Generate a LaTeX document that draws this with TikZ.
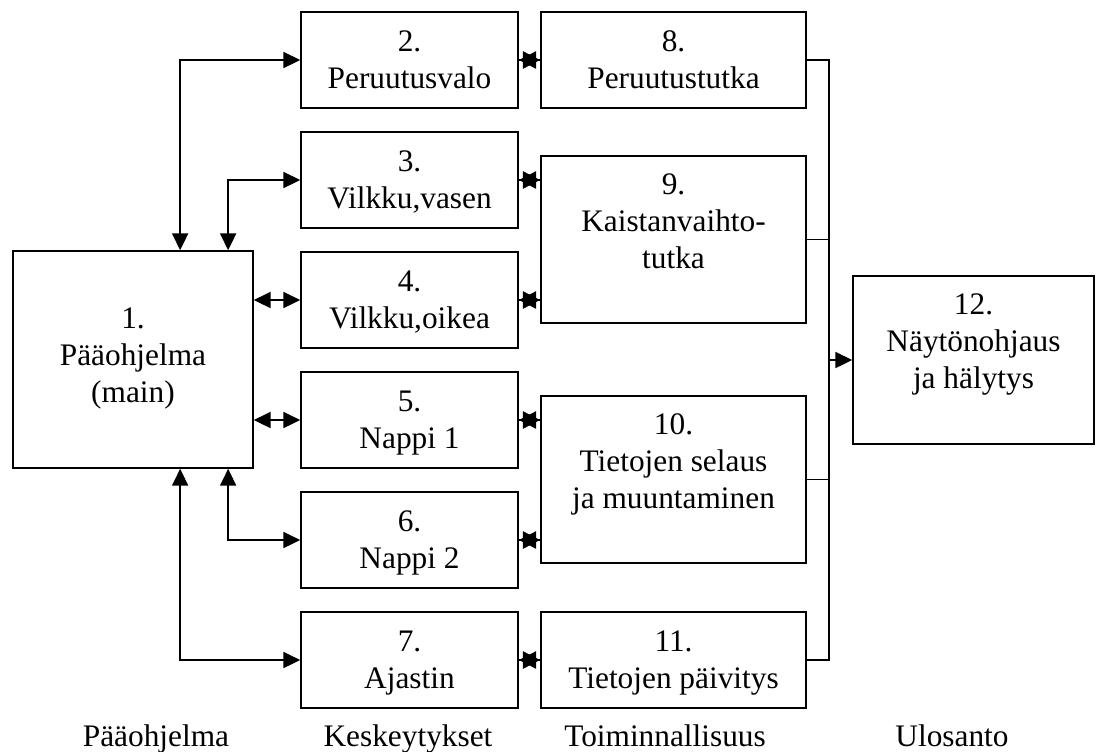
\documentclass[tikz,border=0pt]{standalone}
\usepackage{fontspec}
\setmainfont{Liberation Serif}
\usetikzlibrary{arrows.meta,calc}

% centred multi-line text whose baseline is that of its first line
\newcommand\boxtext[1]{\begin{tabular}[t]{@{}c@{}}#1\end{tabular}}

\begin{document}
\begin{tikzpicture}[x=0.75pt,y=-0.75pt,
  font=\fontsize{23.5}{27.75}\selectfont,
  block/.style={draw,line width=1.3pt,rectangle,inner sep=0pt},
  narrow/.style={block,minimum width=162.75pt,minimum height=72pt},
  txt/.style={inner sep=0pt,anchor=base},
  conn/.style={line width=1.3pt,{Triangle[length=12.5pt,width=12pt]}-{Triangle[length=12.5pt,width=12pt]}},
  feed/.style={line width=1.3pt,-{Triangle[length=12.5pt,width=12pt]}},
  meet/.style={line width=1.3pt,-{Triangle[length=13pt,width=13pt]}},
  wire/.style={line width=1.3pt}]
\useasboundingbox[fill=white] (0,0) rectangle (1099,751);

% main program
\node[block,minimum width=180pt,minimum height=162.75pt] (b1) at (133,359.5) {};

% interrupt handlers
\node[narrow] (b2) at (409.5,60) {};
\node[narrow] (b3) at (409.5,180) {};
\node[narrow] (b4) at (409.5,300) {};
\node[narrow] (b5) at (409.5,420) {};
\node[narrow] (b6) at (409.5,540) {};
\node[narrow] (b7) at (409.5,660) {};

% functionality
\node[block,minimum width=198.75pt,minimum height=72pt] (b8) at (673.5,60) {};
\node[block,minimum width=198.75pt,minimum height=125.25pt] (b9) at (673.5,239.5) {};
\node[block,minimum width=198.75pt,minimum height=125.25pt] (b10) at (673.5,479.5) {};
\node[block,minimum width=198.75pt,minimum height=72pt] (b11) at (673.5,660) {};

% output
\node[block,minimum width=180.75pt,minimum height=126pt] (b12) at (973.5,360) {};

% box texts
\node[txt] (t1) at ($(b1.north)+(0,78)$) {\boxtext{1.\\Pääohjelma\\(main)}};
\node[txt] (t2) at ($(b2.north)+(0,40)$) {\boxtext{2.\\Peruutusvalo}};
\node[txt] (t3) at ($(b3.north)+(0,40)$) {\boxtext{3.\\Vilkku,vasen}};
\node[txt] (t4) at ($(b4.north)+(0,40)$) {\boxtext{4.\\Vilkku,oikea}};
\node[txt] (t5) at ($(b5.north)+(0,40)$) {\boxtext{5.\\Nappi 1}};
\node[txt] (t6) at ($(b6.north)+(0,40)$) {\boxtext{6.\\Nappi 2}};
\node[txt] (t7) at ($(b7.north)+(0,40)$) {\boxtext{7.\\Ajastin}};
\node[txt] (t8) at ($(b8.north)+(0,40)$) {\boxtext{8.\\Peruutustutka}};
\node[txt] (t9) at ($(b9.north)+(0,39)$) {\boxtext{9.\\Kaistanvaihto-\\tutka}};
\node[txt] (t10) at ($(b10.north)+(0,39)$) {\boxtext{10.\\Tietojen selaus\\ja muuntaminen}};
\node[txt] (t11) at ($(b11.north)+(0,40)$) {\boxtext{11.\\Tietojen päivitys}};
\node[txt] (t12) at ($(b12.north)+(0,39)$) {\boxtext{12.\\Näytönohjaus\\ja hälytys}};

% column captions
\node[txt] (c1) at (156,746) {Pääohjelma};
\node[txt] (c2) at (408,746) {Keskeytykset};
\node[txt] (c3) at (665,746) {Toiminnallisuus};
\node[txt] (c4) at (952,746) {Ulosanto};

% main program <-> interrupts
\coordinate (outerN) at ($(b1.north west)+(168,0)$);
\coordinate (innerN) at ($(b1.north west)+(216,0)$);
\coordinate (outerS) at ($(b1.south west)+(168,0)$);
\coordinate (innerS) at ($(b1.south west)+(216,0)$);
\draw[conn] (b2.west) -| (outerN);
\draw[conn] (b3.west) -| (innerN);
\draw[conn] (b1.east |- b4.west) -- (b4.west);
\draw[conn] (b1.east |- b5.west) -- (b5.west);
\draw[conn] (b6.west) -| (innerS);
\draw[conn] (b7.west) -| (outerS);

% interrupts <-> functionality: two overlapping heads in the narrow gap
\foreach \a/\b in {b2/b8,b3/b9,b4/b9,b5/b10,b6/b10,b7/b11}{
  \draw[meet] (\a.east) -- (\a.east -| \b.west);
  \draw[meet] (\a.east -| \b.west) -- (\a.east);
}

% collecting bus to the output
\coordinate (bus) at (829,360);
\draw[wire] (b8.east) -| (b11.east -| bus) -- (b11.east);
\draw[wire] (b9.east) -- (b9.east -| bus);
\draw[wire] (b10.east) -- (b10.east -| bus);
\draw[feed] (bus |- b12.west) -- (b12.west);
\end{tikzpicture}
\end{document}
